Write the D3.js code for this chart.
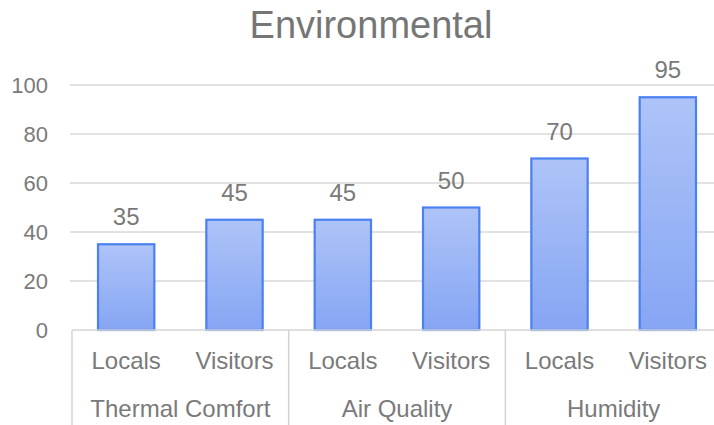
<!DOCTYPE html>
<html><head><meta charset="utf-8">
<script src="https://cdn.jsdelivr.net/npm/d3@7"></script>
<style>body{margin:0;background:#fff}svg{display:block}text{font-family:"Liberation Sans",Arial,sans-serif}</style>
</head><body>
<svg id="c" width="714" height="425"></svg>
<script>
const groups = ["Thermal Comfort","Air Quality","Humidity"];
const series = ["Locals","Visitors"];
const values = [35,45,45,50,70,95];
const yTicks = [0,20,40,60,80,100];
const title = "Environmental";

(function(){
const svg = d3.select("#c");
const W = 714, H = 425;
const mLeft = 72, mRight = 722, mTop = 85, mBottom = 330;
const cats = [];
groups.forEach((g,gi)=>series.forEach((s,si)=>cats.push({g,s,key:g+"|"+s,v:values[gi*series.length+si]})));

const x = d3.scaleBand().domain(cats.map(d=>d.key)).range([mLeft,mRight]).paddingInner(0.48).paddingOuter(0.24);
const xSlot = d3.scaleBand().domain(cats.map(d=>d.key)).range([mLeft,mRight]);
const xg = d3.scaleBand().domain(groups).range([mLeft,mRight]);
const y = d3.scaleLinear().domain([0,100]).range([mBottom,mTop]);

const defs = svg.append("defs");
const grad = defs.append("linearGradient").attr("id","bg").attr("x1",0).attr("y1",0).attr("x2",0).attr("y2",1);
grad.append("stop").attr("offset","0%").attr("stop-color","#aec4f8");
grad.append("stop").attr("offset","100%").attr("stop-color","#86a5f3");

svg.append("text").attr("x",371).attr("y",38).attr("text-anchor","middle")
  .attr("font-size",38).attr("fill","#767676").text(title);

svg.append("g").selectAll("line").data(yTicks.filter(t=>t>0)).join("line")
  .attr("x1",70).attr("x2",W).attr("y1",d=>y(d)).attr("y2",d=>y(d))
  .attr("stroke","#d9d9d9").attr("stroke-width",1.5);

const ya = svg.append("g").attr("transform",`translate(${mLeft},0)`)
  .call(d3.axisLeft(y).tickValues(yTicks).tickSize(0).tickPadding(24));
ya.select(".domain").remove();
ya.selectAll("text").attr("font-size",22).attr("fill","#7a7a7a").attr("font-family","Liberation Sans, Arial, sans-serif");

svg.append("g").selectAll("rect").data(cats).join("rect")
  .attr("x",d=>x(d.key)).attr("width",x.bandwidth())
  .attr("y",d=>y(d.v)).attr("height",d=>y(0)-y(d.v))
  .attr("fill","url(#bg)").attr("stroke","#4a80f0").attr("stroke-width",2.2);

svg.append("g").selectAll("text").data(cats).join("text")
  .attr("x",d=>x(d.key)+x.bandwidth()/2).attr("y",d=>y(d.v)-19)
  .attr("text-anchor","middle").attr("font-size",24).attr("fill","#7a7a7a").text(d=>d.v);

const ax = svg.append("g");
ax.append("line").attr("x1",mLeft).attr("x2",W).attr("y1",mBottom).attr("y2",mBottom).attr("stroke","#d4d4d4").attr("stroke-width",1.5);
groups.forEach(g=>{
  ax.append("line").attr("x1",xg(g)).attr("x2",xg(g)).attr("y1",mBottom).attr("y2",H).attr("stroke","#d4d4d4").attr("stroke-width",1.5);
});
ax.selectAll("text.s").data(cats).join("text").attr("class","s")
  .attr("x",d=>xSlot(d.key)+xSlot.bandwidth()/2).attr("y",369)
  .attr("text-anchor","middle").attr("font-size",24).attr("fill","#7a7a7a").text(d=>d.s);
ax.selectAll("text.g").data(groups).join("text").attr("class","g")
  .attr("x",d=>xg(d)+xg.bandwidth()/2).attr("y",417)
  .attr("text-anchor","middle").attr("font-size",24).attr("fill","#7a7a7a").text(d=>d);
})();
</script>
</body></html>
